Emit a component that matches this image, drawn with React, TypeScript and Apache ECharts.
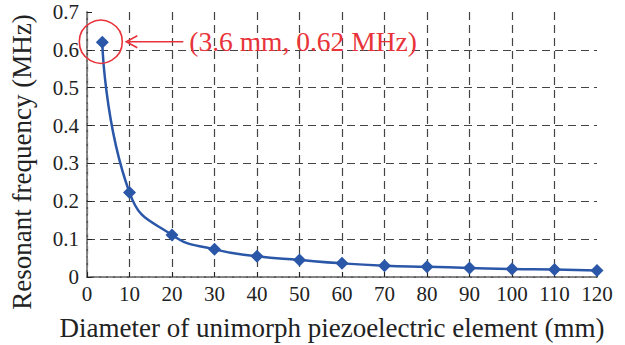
import React, { useEffect, useRef } from "react";
import * as echarts from "echarts";

const diameters = [3.6, 10, 20, 30, 40, 50, 60, 70, 80, 90, 100, 110, 120];
const frequencies = [0.62, 0.223, 0.111, 0.073, 0.055, 0.045, 0.036, 0.03, 0.027, 0.024, 0.021, 0.02, 0.017];
const xTicks = { min: 0, max: 120, interval: 10 };
const yTicks = { min: 0, max: 0.7, interval: 0.1 };
const annotationText = "(3.6 mm, 0.62 MHz)";
const xTitle = "Diameter of unimorph piezoelectric element (mm)";
const yTitle = "Resonant frequency (MHz)";

const FONT = "Liberation Serif";
const BLUE = "#2b57a8";
const RED = "#e8333a";

export default function App() {
  const ref = useRef<HTMLDivElement>(null);
  useEffect(() => {
    if (!ref.current) return;
    const chart = echarts.init(ref.current, null, { renderer: "svg" });
    const data = diameters.map((d, i) => [d, frequencies[i]]);
    const border = {
      show: true,
      lineStyle: { color: "#9a9a9a", type: [5, 2], width: 1.5 },
    };
    chart.setOption({
      animation: false,
      grid: { left: 87, right: 28, top: 12, bottom: 68, outerBoundsMode: "none" },
      xAxis: [
        {
          type: "value",
          min: xTicks.min,
          max: xTicks.max,
          interval: xTicks.interval,
          name: xTitle,
          nameLocation: "middle",
          nameGap: 37,
          nameTextStyle: { fontFamily: FONT, fontSize: 27, color: "#222", padding: [0, 20, 0, 0] },
          axisLine: { show: true, lineStyle: { color: "#222", width: 1.5 } },
          axisTick: { show: true, inside: true, length: 5, lineStyle: { color: "#222" } },
          axisLabel: { fontFamily: FONT, fontSize: 21, color: "#222", margin: 6 },
          splitLine: {
            show: true,
            showMaxLine: false,
            lineStyle: { color: "#444", type: [8, 5], width: 1.2 },
          },
        },
        {
          type: "value",
          position: "top",
          min: xTicks.min,
          max: xTicks.max,
          interval: xTicks.interval,
          axisLine: border,
          axisTick: { show: false },
          axisLabel: { show: false },
          splitLine: { show: false },
        },
      ],
      yAxis: [
        {
          type: "value",
          min: yTicks.min,
          max: yTicks.max,
          interval: yTicks.interval,
          name: yTitle,
          nameLocation: "middle",
          nameGap: 52,
          nameTextStyle: { fontFamily: FONT, fontSize: 27, color: "#222", padding: [0, 35, 0, 0] },
          axisLine: { show: true, lineStyle: { color: "#222", width: 1.5 } },
          axisTick: { show: true, inside: true, length: 5, lineStyle: { color: "#222" } },
          axisLabel: {
            fontFamily: FONT,
            fontSize: 21,
            color: "#222",
            margin: 8,
            formatter: (v: number) => (v === 0 ? "0" : v.toFixed(1)),
          },
          splitLine: {
            show: true,
            showMaxLine: false,
            lineStyle: { color: "#444", type: [8, 5], width: 1.2 },
          },
        },
        {
          type: "value",
          position: "right",
          min: yTicks.min,
          max: yTicks.max,
          interval: yTicks.interval,
          axisLine: border,
          axisTick: { show: false },
          axisLabel: { show: false },
          splitLine: { show: false },
        },
      ],
      series: [
        {
          type: "line",
          xAxisIndex: 0,
          yAxisIndex: 0,
          data,
          smooth: 0.5,
          symbol: "diamond",
          symbolSize: 13,
          itemStyle: { color: BLUE },
          lineStyle: { color: BLUE, width: 2.5 },
          z: 5,
        },
      ],
    });
    const p = chart.convertToPixel({ xAxisIndex: 0, yAxisIndex: 0 }, [diameters[0], frequencies[0]]) as number[];
    const cx = p[0] - 1.5;
    const cy = p[1] - 0.5;
    const r = 21.5;
    const tipX = cx + r + 4;
    const endX = tipX + 57;
    chart.setOption({
      graphic: [
        {
          type: "circle",
          shape: { cx, cy, r },
          style: { fill: "none", stroke: RED, lineWidth: 1.6 },
          z: 10,
        },
        {
          type: "line",
          shape: { x1: tipX + 2, y1: cy, x2: endX, y2: cy },
          style: { stroke: RED, lineWidth: 1.6 },
          z: 10,
        },
        {
          type: "polyline",
          shape: { points: [[tipX + 11, cy - 6], [tipX, cy], [tipX + 11, cy + 6]] },
          style: { fill: "none", stroke: RED, lineWidth: 1.6 },
          z: 10,
        },
        {
          type: "text",
          x: endX + 6,
          y: cy,
          style: {
            text: annotationText,
            fontFamily: FONT,
            fontSize: 27.5,
            fill: RED,
            verticalAlign: "middle",
            align: "left",
          },
          z: 10,
        },
      ],
    });
    return () => chart.dispose();
  }, []);
  return (
    <div
      ref={ref}
      style={{ position: "absolute", left: 0, top: 0, width: 625, height: 345 }}
    />
  );
}
